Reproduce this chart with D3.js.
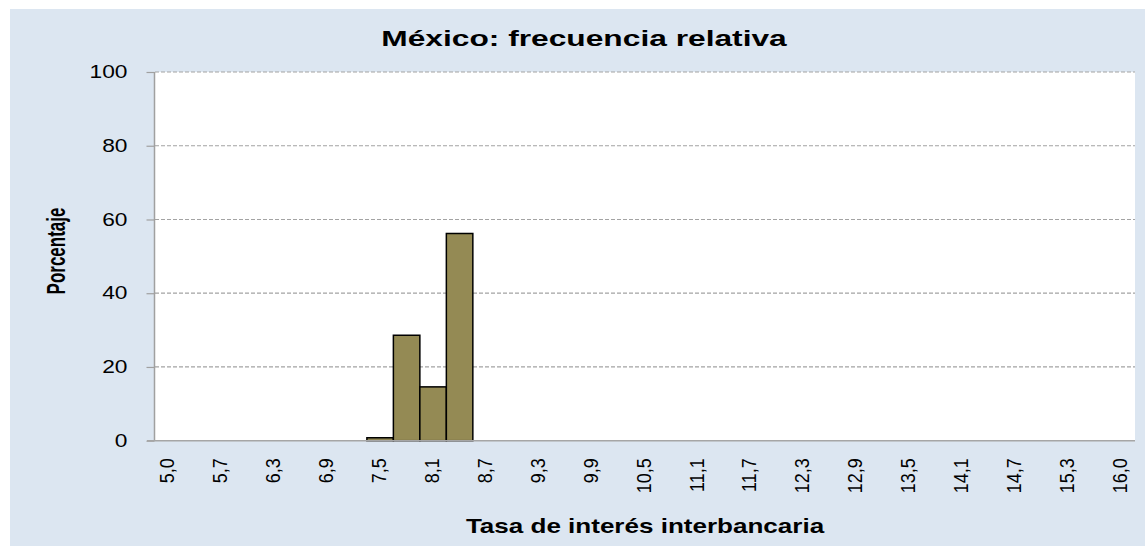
<!DOCTYPE html>
<html>
<head>
<meta charset="utf-8">
<script src="https://cdn.jsdelivr.net/npm/d3@7"></script>
<style>
  html, body { margin: 0; padding: 0; background: #ffffff; }
  svg { display: block; font-family: "Liberation Sans", Arial, sans-serif; }
</style>
</head>
<body>
<svg id="chart" width="1145" height="546"></svg>
<script>
// Interest-rate classes (category axis) and relative frequency in each class (%)
const categories = [
  "5,0", "5,4", "5,7", "6,0", "6,3", "6,6", "6,9", "7,2", "7,5", "7,8",
  "8,1", "8,4", "8,7", "9,0", "9,3", "9,6", "9,9", "10,2", "10,5", "10,8",
  "11,1", "11,4", "11,7", "12,0", "12,3", "12,6", "12,9", "13,2", "13,5", "13,8",
  "14,1", "14,4", "14,7", "15,0", "15,3", "15,6", "16,0"
];
const frequency = [
  0, 0, 0, 0, 0, 0, 0, 0, 0.8, 28.6,
  14.6, 56.2, 0, 0, 0, 0, 0, 0, 0, 0,
  0, 0, 0, 0, 0, 0, 0, 0, 0, 0,
  0, 0, 0, 0, 0, 0, 0
];
const yTicks = [0, 20, 40, 60, 80, 100];
const xTickLabels = categories.filter((d, i) => i % 2 === 0);

const titleText = "México: frecuencia relativa";
const xTitleText = "Tasa de interés interbancaria";
const yTitleText = "Porcentaje";

const svg = d3.select("#chart");
const W = 1145, H = 546;
const plot = { left: 155, right: 1135, top: 72, bottom: 440.7 };
const stretch = 1.3; // horizontal glyph stretch for the value labels

// Outer chart area
svg.append("rect")
  .attr("x", 10).attr("y", 9)
  .attr("width", W - 10).attr("height", H - 9)
  .attr("fill", "#dce6f1");

// Plot area
svg.append("rect")
  .attr("x", plot.left).attr("y", plot.top)
  .attr("width", plot.right - plot.left).attr("height", plot.bottom - plot.top)
  .attr("fill", "#ffffff");

const x = d3.scaleBand()
  .domain(categories)
  .range([plot.left, plot.right])
  .paddingInner(0).paddingOuter(0);

const y = d3.scaleLinear()
  .domain([0, 100])
  .range([plot.bottom, plot.top]);

// Dashed horizontal gridlines
svg.append("g")
  .selectAll("line")
  .data(yTicks.filter(d => d > 0))
  .join("line")
  .attr("x1", plot.left).attr("x2", plot.right)
  .attr("y1", d => y(d)).attr("y2", d => y(d))
  .attr("stroke", "#a3a3a3")
  .attr("stroke-width", 1.2)
  .attr("stroke-dasharray", "4,2");

// Bars
const data = categories.map((c, i) => ({ c, v: frequency[i] }));
svg.append("g")
  .selectAll("rect")
  .data(data.filter(d => d.v > 0))
  .join("rect")
  .attr("x", d => x(d.c))
  .attr("y", d => y(d.v))
  .attr("width", x.bandwidth())
  .attr("height", d => y(0) - y(d.v))
  .attr("fill", "#948a54")
  .attr("stroke", "#000000")
  .attr("stroke-width", 1.5);

// Y axis
const yAxis = d3.axisLeft(y)
  .tickValues(yTicks)
  .tickSize(8)
  .tickPadding(19)
  .tickFormat(d3.format("d"));
const gy = svg.append("g")
  .attr("transform", `translate(${plot.left - 0.5},0)`)
  .call(yAxis);
gy.select(".domain")
  .attr("stroke", "#a0a0a0").attr("stroke-width", 1.5)
  .attr("d", `M0,${plot.top}V${plot.bottom}`);
gy.selectAll(".tick line").attr("stroke", "#a0a0a0").attr("stroke-width", 1.2);
gy.selectAll(".tick text")
  .attr("font-size", 17.5)
  .attr("fill", "#000000")
  .attr("font-family", "Liberation Sans, Arial, sans-serif")
  .each(function () {
    const t = d3.select(this);
    const tx = +t.attr("x");
    t.attr("x", null)
     .attr("transform", `translate(${tx},0) scale(${stretch},1)`);
  });

// X axis
const xAxis = d3.axisBottom(x)
  .tickValues(xTickLabels)
  .tickSize(0)
  .tickPadding(0);
const gx = svg.append("g")
  .attr("transform", `translate(0,${plot.bottom})`)
  .call(xAxis);
gx.select(".domain")
  .attr("stroke", "#a6a6a6").attr("stroke-width", 1.6)
  .attr("d", `M${plot.left - 8},0H${plot.right}`);
gx.selectAll(".tick text")
  .attr("font-size", 18)
  .attr("fill", "#000000")
  .attr("font-family", "Liberation Sans, Arial, sans-serif")
  .attr("y", 0)
  .attr("dy", 4.5)
  .attr("text-anchor", "end")
  .attr("transform", `translate(0.5,17.6) scale(1.12,1) rotate(-90)`);

// Titles
svg.append("text")
  .attr("transform", `translate(584,45.5) scale(1.41,1)`)
  .attr("text-anchor", "middle")
  .attr("font-size", 22.5)
  .attr("font-weight", "bold")
  .text(titleText);

svg.append("text")
  .attr("transform", `translate(645,533) scale(1.27,1)`)
  .attr("text-anchor", "middle")
  .attr("font-size", 20.5)
  .attr("font-weight", "bold")
  .text(xTitleText);

svg.append("text")
  .attr("transform", `translate(55.5,251) scale(1.55,1) rotate(-90)`)
  .attr("text-anchor", "middle")
  .attr("dy", "0.35em")
  .attr("font-size", 17)
  .attr("font-weight", "bold")
  .text(yTitleText);
</script>
</body>
</html>
